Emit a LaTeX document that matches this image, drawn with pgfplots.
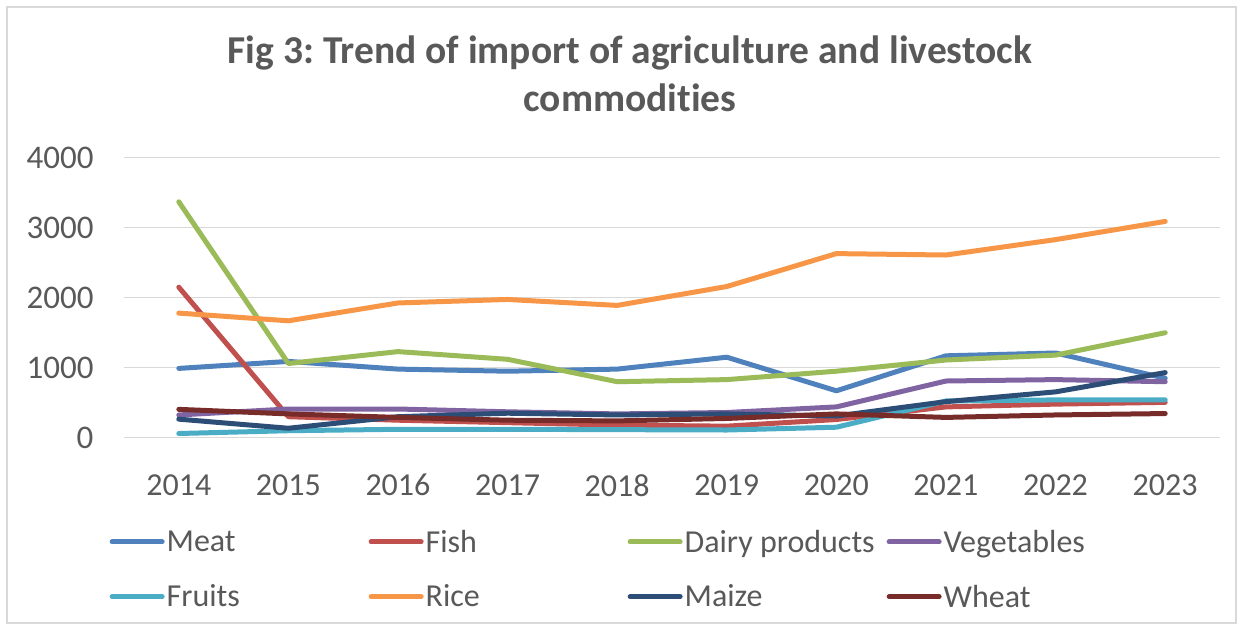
\documentclass[border=0pt]{standalone}
\usepackage{fontspec}
\setmainfont{Carlito}[Ligatures=NoCommon]
\usepackage{pgfplots}
\usepackage{pgfplotstable}
\pgfplotsset{compat=1.18}
\definecolor{cMeat}{HTML}{4F81BD}
\definecolor{cFish}{HTML}{C0504D}
\definecolor{cDairy}{HTML}{9BBB59}
\definecolor{cVeg}{HTML}{8064A2}
\definecolor{cFruit}{HTML}{4BACC6}
\definecolor{cRice}{HTML}{F79646}
\definecolor{cMaize}{HTML}{2C4D75}
\definecolor{cWheat}{HTML}{772C2A}
\definecolor{txt}{HTML}{595959}
\definecolor{gridc}{HTML}{D9D9D9}
\pgfplotstableread{
year meat fish dairy veg fruit rice maize wheat
2014 990 2150 3370 325 60 1780 265 405
2015 1090 300 1060 410 100 1670 135 340
2016 980 250 1230 410 120 1925 300 290
2017 950 215 1120 370 120 1975 350 250
2018 980 180 800 340 115 1890 325 240
2019 1150 165 830 360 110 2160 340 275
2020 670 260 950 440 150 2630 310 340
2021 1170 440 1110 810 525 2610 515 290
2022 1210 480 1180 830 540 2830 655 325
2023 850 505 1500 800 540 3090 930 345
}\datatable
\begin{document}
\frenchspacing
\begin{tikzpicture}[x=1pt,y=1pt]
\path[use as bounding box] (0,0) rectangle (1243,-630);
\draw[color=gridc, line width=1.2pt] (7,-7) rectangle (1236,-623);
\node[font=\fontsize{39.5}{48}\selectfont\bfseries, text=txt, align=center] at (630,-74) {Fig 3: Trend of import of agriculture and livestock\\commodities};
\begin{axis}[
  at={(124pt,-437.7pt)}, anchor=south west,
  scale only axis, width=1096pt, height=280pt,
  xmin=2013.5, xmax=2023.5, ymin=0, ymax=4000,
  xtick={2014,...,2023}, ytick={0,1000,2000,3000,4000},
  /pgf/number format/1000 sep={},
  /pgf/number format/assume math mode=true,
  axis line style={draw=none},
  major tick length=0pt,
  ymajorgrids, grid style={color=gridc, line width=1.5pt},
  tick label style={text=txt, font=\fontsize{32}{36}\selectfont},
  xticklabel style={yshift=-33pt},
  yticklabel style={xshift=-27pt, font=\fontsize{33}{36}\selectfont},
  legend columns=4,
  legend cell align=left,
  legend image code/.code={\draw[#1, line cap=round] (0pt,0pt) -- (50pt,0pt);},
  legend style={draw=none, fill=none, at={(axis description cs:-0.016,-0.315)}, anchor=north west,
    font=\fontsize{32}{36}\selectfont, text=txt, row sep=27pt, column sep=0pt,
    nodes={inner sep=2pt}},
  every axis plot/.append style={line width=5pt, line cap=round, line join=round},
]
\addplot[cMeat] table[x=year,y=meat]{\datatable};
\addlegendentry{\makebox[200pt][l]{Meat}}
\addplot[cFish] table[x=year,y=fish]{\datatable};
\addlegendentry{\makebox[200pt][l]{Fish}}
\addplot[cDairy] table[x=year,y=dairy]{\datatable};
\addlegendentry{\makebox[200pt][l]{Dairy products}}
\addplot[cVeg] table[x=year,y=veg]{\datatable};
\addlegendentry{\makebox[200pt][l]{Vegetables}}
\addplot[cFruit] table[x=year,y=fruit]{\datatable};
\addlegendentry{\makebox[200pt][l]{Fruits}}
\addplot[cRice] table[x=year,y=rice]{\datatable};
\addlegendentry{\makebox[200pt][l]{Rice}}
\addplot[cMaize] table[x=year,y=maize]{\datatable};
\addlegendentry{\makebox[200pt][l]{Maize}}
\addplot[cWheat] table[x=year,y=wheat]{\datatable};
\addlegendentry{\makebox[200pt][l]{Wheat}}
\end{axis}
\end{tikzpicture}
\end{document}
